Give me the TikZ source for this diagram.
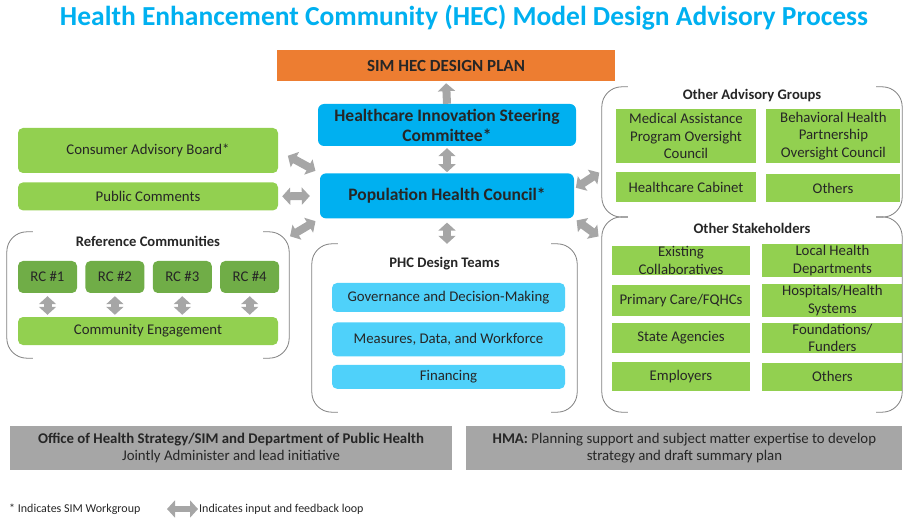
\documentclass[tikz,border=0pt]{standalone}
\usepackage{fontspec}
\setmainfont{Carlito}
\usetikzlibrary{positioning,arrows.meta}
\definecolor{titleblue}{HTML}{00B0F0}
\definecolor{planorange}{HTML}{ED7D31}
\definecolor{councilblue}{HTML}{00B0F0}
\definecolor{teamblue}{HTML}{4FD1FA}
\definecolor{lightgreen}{HTML}{92D050}
\definecolor{darkgreen}{HTML}{70AD47}
\definecolor{loopgray}{HTML}{A6A6A6}
\definecolor{bracketgray}{HTML}{7F7F7F}
\def\Plan{SIM HEC DESIGN PLAN}
% rounded brackets left and right of a group node
\newcommand{\groupbrackets}[1]{%
  \draw[bracketline] ([xshift=26pt]#1.north west) -- (#1.north west) -- (#1.south west) -- ([xshift=26pt]#1.south west);
  \draw[bracketline] ([xshift=-26pt]#1.north east) -- (#1.north east) -- (#1.south east) -- ([xshift=-26pt]#1.south east);}

\begin{document}
\begin{tikzpicture}[x=1pt,y=-1pt,% pixel coordinates, y grows downwards
        every node/.style={
            align=center,       % so that "\\" breaks the line
            inner sep=1pt,
            text=black!85,
            font=\fontsize{14.8}{17.5}\selectfont
        },
        greenbox/.style={rectangle,fill=lightgreen,rounded corners=5pt,minimum width=260pt},
        stakebox/.style={rectangle,fill=lightgreen},
        rcbox/.style={rectangle,fill=darkgreen,rounded corners=5pt,minimum width=59pt,minimum height=32pt},
        teambox/.style={rectangle,fill=teamblue,rounded corners=5pt,minimum width=233pt},
        councilbox/.style={rectangle,fill=councilblue,rounded corners=6pt,font=\fontsize{17.5}{20}\selectfont\bfseries},
        officebox/.style={rectangle,fill=loopgray,minimum height=44pt},
        groupbox/.style={rectangle,inner sep=0pt},
        grouptitle/.style={font=\fontsize{14.6}{17}\selectfont\bfseries},
        notetext/.style={anchor=west,font=\fontsize{12}{14}\selectfont},
        bracketline/.style={draw=bracketgray,line width=0.8pt,rounded corners=20pt},
        loop arrow/.style={draw=loopgray,line width=8pt,{Triangle[width=17pt,length=8pt]}-{Triangle[width=17pt,length=8pt]}},
        one way/.style={draw=loopgray,line width=8pt,-{Triangle[width=17pt,length=8pt]}}
    ]
    \useasboundingbox (0,0) rectangle (904,518);

    \node[font=\fontsize{27.5}{32}\selectfont\bfseries,text=titleblue](title) at (464,18) {Health Enhancement Community (HEC) Model Design Advisory Process};
    \node[rectangle,fill=planorange,minimum width=338pt,minimum height=31pt,font=\fontsize{17}{20}\selectfont\bfseries](plan) at (446,65.5) {\Plan};

    % councils
    \node[councilbox,minimum width=258pt,minimum height=42pt](hisc) at (447,125) {Healthcare Innovation Steering\\Committee*};
    \node[councilbox,minimum width=254pt,minimum height=45pt](phc)[below=27pt of hisc] {Population Health Council*};

    % left column
    \node[greenbox,minimum height=45pt](cab) at (148,150.5) {Consumer Advisory Board*};
    \node[greenbox,minimum height=28pt](pc)[below=9pt of cab] {Public Comments};
    \node[groupbox,minimum width=282pt,minimum height=126pt](rcg) at (148,295) {};
    \node[grouptitle](rcgt)[below=3pt of rcg.north] {Reference Communities};
    \node[rcbox](rc1) at (47.5,277) {RC \#1};
    \node[rcbox](rc2)[right=8pt of rc1] {RC \#2};
    \node[rcbox](rc3)[right=8pt of rc2] {RC \#3};
    \node[rcbox](rc4)[right=8pt of rc3] {RC \#4};
    \node[greenbox,minimum height=28pt](ce) at (148,331) {Community Engagement};

    % design teams
    \node[groupbox,minimum width=265pt,minimum height=168pt](dtg) at (444.5,328) {};
    \node[grouptitle](dtgt)[below=12pt of dtg.north] {PHC Design Teams};
    \node[teambox,minimum height=29pt](gov) at (448.5,297.5) {Governance and Decision-Making};
    \node[teambox,minimum height=34pt](mdw)[below=10pt of gov] {Measures, Data, and Workforce};
    \node[teambox,minimum height=24pt](fin)[below=8pt of mdw] {Financing};

    % other advisory groups
    \node[groupbox,minimum width=300pt,minimum height=130pt](oag) at (752,152) {};
    \node[grouptitle](oagt)[below=1pt of oag.north] {Other Advisory Groups};
    \node[stakebox,minimum width=140pt,minimum height=54pt](mapoc) at (686,136) {Medical Assistance\\Program Oversight\\Council};
    \node[stakebox,minimum width=134pt,minimum height=54pt](bhpoc)[right=10pt of mapoc] {Behavioral Health\\Partnership\\Oversight Council};
    \node[stakebox,minimum width=140pt,minimum height=30pt](hcab) at (686,187) {Healthcare Cabinet};
    \node[stakebox,minimum width=134pt,minimum height=28pt](oagoth) at (833,188) {Others};

    % other stakeholders
    \node[groupbox,minimum width=300pt,minimum height=195pt](osg) at (752,314.5) {};
    \node[grouptitle](osgt)[below=5pt of osg.north] {Other Stakeholders};
    \node[stakebox,minimum width=138pt,minimum height=29pt](exist) at (681,260.5) {Existing\\Collaboratives};
    \node[stakebox,minimum width=140pt,minimum height=29pt](ldh)[right=12pt of exist] {Local Health\\Departments};
    \node[stakebox,minimum width=138pt,minimum height=31pt](pcare) at (681,300.5) {Primary Care/FQHCs};
    \node[stakebox,minimum width=140pt,minimum height=31pt](hosp)[right=12pt of pcare] {Hospitals/Health\\Systems};
    \node[stakebox,minimum width=138pt,minimum height=30pt](state) at (681,338) {State Agencies};
    \node[stakebox,minimum width=140pt,minimum height=28pt](fund)[right=12pt of state] {Foundations/\\Funders};
    \node[stakebox,minimum width=138pt,minimum height=29pt](empl) at (681,376.5) {Employers};
    \node[stakebox,minimum width=140pt,minimum height=28pt](osgoth)[right=12pt of empl] {Others};

    \groupbrackets{rcg}
    \groupbrackets{dtg}
    \groupbrackets{oag}
    \groupbrackets{osg}

    % administration
    \node[officebox,minimum width=442pt](ohs) at (231,448) {\textbf{Office of Health Strategy/SIM and Department of Public Health}\\Jointly Administer and lead initiative};
    \node[officebox,minimum width=436pt](hma)[right=14pt of ohs] {\textbf{HMA:} Planning support and subject matter expertise to develop\\strategy and draft summary plan};

    % legend
    \node[notetext](wgnote) at (8,509) {* Indicates SIM Workgroup};
    \node[notetext](loopnote) at (198,509) {Indicates input and feedback loop};
    \coordinate (loopicon) at (167,509);

    % input and feedback loops
    \path
    (hisc.north) edge[one way,shorten >=2pt] (plan.south)
    (hisc.south) edge[loop arrow,shorten <=2pt,shorten >=1pt] (phc.north)
    (phc.south) edge[loop arrow,shorten <=4pt] (phc.south |- dtg.north)
    (cab.east) edge[loop arrow,shorten <=11pt,shorten >=5pt] (phc.north west)
    (pc.east) edge[loop arrow,shorten <=4pt,shorten >=10pt] (phc.west)
    ([yshift=-5pt]rcg.north east) edge[loop arrow,shorten <=1pt,shorten >=5pt] (phc.south west)
    ([yshift=7pt]phc.east) edge[loop arrow,shorten <=2pt,shorten >=3pt] ([yshift=-19pt]oag.west)
    (phc.south east) edge[loop arrow,shorten <=3pt,shorten >=4pt] ([yshift=-22pt]osg.north west)
    (loopicon) edge[loop arrow,line width=6pt] (loopnote.west)
    ;
    \foreach \i in {1,...,4}
        \path (rc\i.south) edge[loop arrow,shorten <=3pt,shorten >=2pt] (rc\i.south |- ce.north);
\end{tikzpicture}
\end{document}
